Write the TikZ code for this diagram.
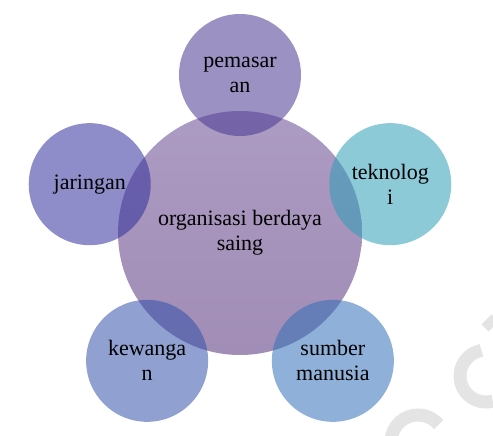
\documentclass[tikz,border=0pt]{standalone}
\usepackage{fontspec}
\setmainfont{Liberation Serif}
\definecolor{coretop}{HTML}{AC9BC3}
\definecolor{corebottom}{HTML}{A18DB5}
\definecolor{marketviolet}{RGB}{73,55,145}
\definecolor{netblue}{RGB}{49,47,156}
\definecolor{techcyan}{RGB}{47,158,184}
\definecolor{financeblue}{RGB}{51,82,171}
\definecolor{peopleblue}{RGB}{51,113,185}
\definecolor{markgray}{HTML}{E4E4E4}

\begin{document}
\begin{tikzpicture}[font=\fontsize{22}{25}\selectfont]
  \tikzstyle{every node}=[circle,inner sep=0pt,align=center,text=black]
  \tikzstyle{core}=[minimum size=244pt,top color=coretop,bottom color=corebottom]
  \tikzstyle{leaf}=[minimum size=122pt,fill opacity=0.55,text opacity=1]
  \tikzstyle{wmstroke}=[draw=markgray,line width=13pt]
  \useasboundingbox (-240pt,-203pt) rectangle (253pt,233pt);

  % faint watermark, bottom right
  \draw[wmstroke] (246pt,-143pt) ++(100:26pt) arc[start angle=100,end angle=285,radius=26pt];
  \draw[wmstroke] (178pt,-209pt) ++(200:27pt) arc[start angle=200,end angle=40,radius=27pt];
  \draw[draw=markgray,line width=10pt] (245pt,-95pt) -- (255pt,-85pt);

\node [core] (core) {organisasi berdaya\\saing};

\node [leaf,fill=marketviolet] (pemasaran) at (90:158pt) {pemasar\\an};
\node [leaf,fill=techcyan] (teknologi) at (18:158pt) {teknolog\\i};
\node [leaf,fill=netblue] (jaringan) at (162:158pt) {jaringan};
\node [leaf,fill=financeblue] (kewangan) at (234:158pt) {kewanga\\n};
\node [leaf,fill=peopleblue] (sumber) at (306:158pt) {sumber\\manusia};

\end{tikzpicture}
\end{document}
